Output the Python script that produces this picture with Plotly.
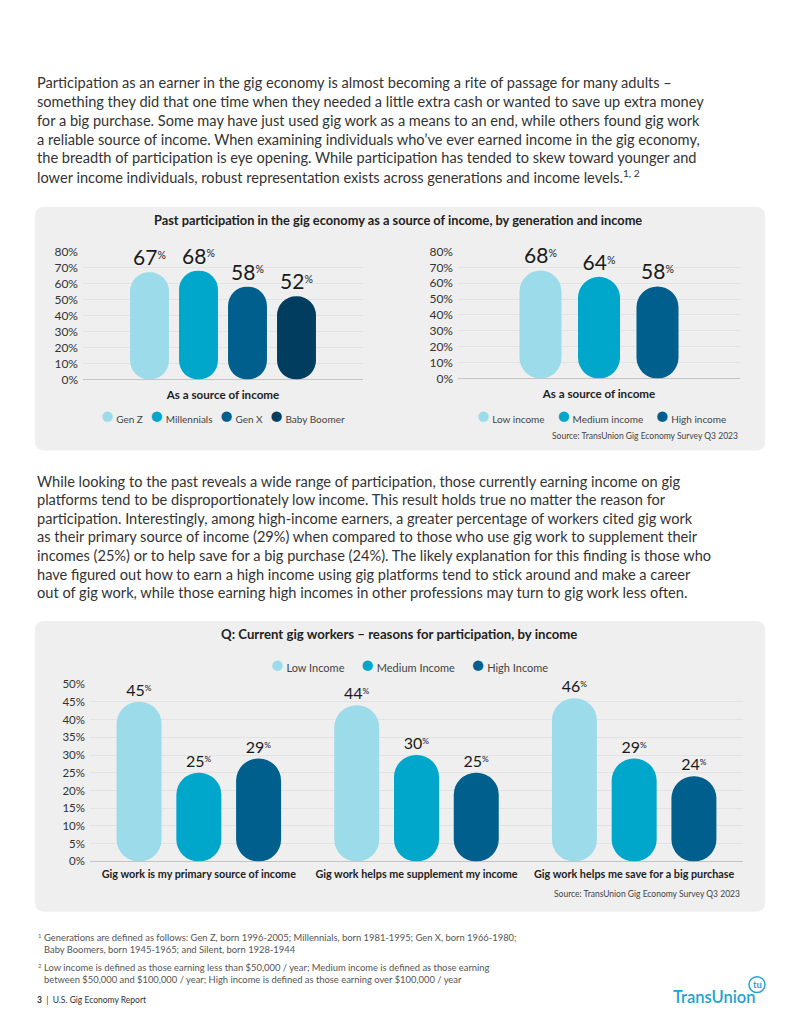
import plotly.graph_objects as go

W, H = 800, 1035
FONT = "Lato"
TEXT_COLOR = "#333333"

# ---- data -------------------------------------------------------------
GEN_CATEGORY = ["As a source of income"]
GEN_NAMES = ["Gen Z", "Millennials", "Gen X", "Baby Boomer"]
GEN_VALUES = [67, 68, 58, 52]

INCOME_CATEGORY = ["As a source of income"]
INCOME_NAMES = ["Low income", "Medium income", "High income"]
INCOME_VALUES = [68, 64, 58]

REASONS = [
    "Gig work is my primary source of income",
    "Gig work helps me supplement my income",
    "Gig work helps me save for a big purchase",
]
REASON_SERIES = ["Low Income", "Medium Income", "High Income"]
LOW_INCOME = [45, 44, 46]
MEDIUM_INCOME = [25, 30, 29]
HIGH_INCOME = [29, 25, 24]

GEN_COLORS = ["#9cdbea", "#00a7cb", "#005f8c", "#003d5e"]
INCOME_COLORS = ["#9cdbea", "#00a7cb", "#005f8c"]

PARA_1 = [
    "Participation as an earner in the gig economy is almost becoming a rite of passage for many adults –",
    "something they did that one time when they needed a little extra cash or wanted to save up extra money",
    "for a big purchase. Some may have just used gig work as a means to an end, while others found gig work",
    "a reliable source of income. When examining individuals who’ve ever earned income in the gig economy,",
    "the breadth of participation is eye opening. While participation has tended to skew toward younger and",
    "lower income individuals, robust representation exists across generations and income levels.<sup>1, 2</sup>",
]
PARA_2 = [
    "While looking to the past reveals a wide range of participation, those currently earning income on gig",
    "platforms tend to be disproportionately low income. This result holds true no matter the reason for",
    "participation. Interestingly, among high-income earners, a greater percentage of workers cited gig work",
    "as their primary source of income (29%) when compared to those who use gig work to supplement their",
    "incomes (25%) or to help save for a big purchase (24%). The likely explanation for this finding is those who",
    "have figured out how to earn a high income using gig platforms tend to stick around and make a career",
    "out of gig work, while those earning high incomes in other professions may turn to gig work less often.",
]
FOOTNOTES = [
    ("1", ["Generations are defined as follows: Gen Z, born 1996-2005; Millennials, born 1981-1995; Gen X, born 1966-1980;",
           "Baby Boomers, born 1945-1965; and Silent, born 1928-1944"]),
    ("2", ["Low income is defined as those earning less than $50,000 / year; Medium income is defined as those earning",
           "between $50,000 and $100,000 / year; High income is defined as those earning over $100,000 / year"]),
]
SOURCE = "Source: TransUnion Gig Economy Survey Q3 2023"


def px(x):
    return x / W


def py(y):
    return 1 - y / H


def pct_label(v, size):
    return f"{v}<span style='font-size:{size:.0f}px'><sup>%</sup></span>"


def add_pills(fig, x, values, color, xaxis, yaxis, width, offset, label_size):
    """Pill-shaped bars: an explicit base makes plotly round both ends."""
    fig.add_trace(go.Bar(
        x=x, y=values, base=[0] * len(values),
        xaxis=xaxis, yaxis=yaxis, width=width, offset=offset,
        marker=dict(color=color, cornerradius="50%", line=dict(width=0)),
        text=[pct_label(v, label_size * 0.72) for v in values],
        textposition="outside", constraintext="none", cliponaxis=False,
        outsidetextfont=dict(family=FONT, size=label_size, color="#1a1a1a"),
        showlegend=False, hoverinfo="skip",
    ))


def legend_text(names, colors, gap=4, dot=21):
    items = [f"<span style='color:{c};font-size:{dot}px'>●</span>\u00a0{n}" for n, c in zip(names, colors)]
    return ("\u00a0" * gap).join(items)


fig = go.Figure()

# chart 1: generations
slot, bw = 0.175, 0.139
for i, (v, c) in enumerate(zip(GEN_VALUES, GEN_COLORS)):
    centre = (i - (len(GEN_VALUES) - 1) / 2) * slot
    add_pills(fig, GEN_CATEGORY, [v], c, "x", "y", bw, centre - bw / 2, 21)

# chart 2: income
slot, bw = 0.2074, 0.149
for i, (v, c) in enumerate(zip(INCOME_VALUES, INCOME_COLORS)):
    centre = (i - (len(INCOME_VALUES) - 1) / 2) * slot
    add_pills(fig, INCOME_CATEGORY, [v], c, "x2", "y2", bw, centre - bw / 2, 21)

# chart 3: reasons by income
slot, bw = 0.2745, 0.2067
for i, (vals, c) in enumerate(zip([LOW_INCOME, MEDIUM_INCOME, HIGH_INCOME], INCOME_COLORS)):
    centre = (i - 1) * slot
    add_pills(fig, REASONS, vals, c, "x3", "y3", bw, centre - bw / 2, 16)

yaxis_style = dict(
    ticksuffix="%", showgrid=True, gridcolor="#e3e3e3", gridwidth=1,
    zeroline=True, zerolinecolor="#c4c4c4", zerolinewidth=1,
    showline=False, ticks="", ticklabelstandoff=4, fixedrange=True,
)
xaxis_style = dict(
    type="category", showgrid=False, zeroline=False, showline=False, ticks="",
    fixedrange=True,
)

fig.update_layout(
    width=W, height=H,
    margin=dict(l=0, r=0, t=0, b=0),
    paper_bgcolor="white", plot_bgcolor="rgba(0,0,0,0)",
    barmode="overlay", showlegend=False,
    font=dict(family=FONT, color=TEXT_COLOR),
    xaxis=dict(domain=[px(83), px(363)], anchor="y", range=[-0.5, 0.5], ticklabelstandoff=7,
               tickfont=dict(family=FONT, size=11.6, color="#222", weight="bold"), **xaxis_style),
    yaxis=dict(domain=[py(377), py(247)], anchor="x", range=[0, 80], dtick=10,
               tickfont=dict(family=FONT, size=12, color=TEXT_COLOR), **yaxis_style),
    xaxis2=dict(domain=[px(458), px(740)], anchor="y2", range=[-0.5, 0.5], ticklabelstandoff=7,
                tickfont=dict(family=FONT, size=11.6, color="#222", weight="bold"), **xaxis_style),
    yaxis2=dict(domain=[py(376), py(247)], anchor="x2", range=[0, 80], dtick=10,
                tickfont=dict(family=FONT, size=12, color=TEXT_COLOR), **yaxis_style),
    xaxis3=dict(domain=[px(90), px(743)], anchor="y3", range=[-0.5, 2.5], ticklabelstandoff=5,
                tickfont=dict(family=FONT, size=10.8, color="#222", weight="bold"), **xaxis_style),
    yaxis3=dict(domain=[py(866), py(686)], anchor="x3", range=[0, 50], dtick=5,
                tickfont=dict(family=FONT, size=11.5, color=TEXT_COLOR), **yaxis_style),
)


def panel(x0, y0, x1, y1, r=9):
    rx, ry = r / W, r / H
    a0, a1, b0, b1 = px(x0), px(x1), py(y1), py(y0)
    path = (f"M {a0 + rx},{b0} L {a1 - rx},{b0} Q {a1},{b0} {a1},{b0 + ry} "
            f"L {a1},{b1 - ry} Q {a1},{b1} {a1 - rx},{b1} L {a0 + rx},{b1} "
            f"Q {a0},{b1} {a0},{b1 - ry} L {a0},{b0 + ry} Q {a0},{b0} {a0 + rx},{b0} Z")
    return dict(type="path", xref="paper", yref="paper", path=path,
                fillcolor="#efefef", line=dict(width=0), layer="below")


logo_color = "#1ea3d0"
fig.update_layout(shapes=[
    panel(35, 202, 765, 449),
    panel(35, 622, 765, 917),
    dict(type="circle", xref="paper", yref="paper",
         x0=px(749), x1=px(765), y0=py(999), y1=py(983),
         line=dict(color=logo_color, width=1.5)),
])

ann = []


def text(x, y, s, size, color=TEXT_COLOR, anchor="left", weight="normal"):
    ann.append(dict(x=px(x), y=py(y), xref="paper", yref="paper", text=s,
                    showarrow=False, xanchor=anchor, yanchor="middle",
                    font=dict(family=FONT, size=size, color=color, weight=weight)))


for i, line in enumerate(PARA_1):
    text(35, 76 + i * 19, line, 14.6)
for i, line in enumerate(PARA_2):
    text(35, 480 + i * 18.9, line, 14.6)

text(398, 215, "Past participation in the gig economy as a source of income, by generation and income",
     12.8, "#222", "center", "bold")
text(399, 635, "Q: Current gig workers – reasons for participation, by income",
     13.2, "#222", "center", "bold")

text(223, 412, legend_text(GEN_NAMES, GEN_COLORS, gap=3), 10, "#444", "center")
text(601, 412, legend_text(INCOME_NAMES, INCOME_COLORS, gap=5), 10, "#444", "center")
text(410, 665, legend_text(REASON_SERIES, INCOME_COLORS, gap=6), 11, "#444", "center")

text(740, 434, SOURCE, 8.5, "#444", "right")
text(742, 899, SOURCE, 8.5, "#444", "right")

y = 943
for mark, lines in FOOTNOTES:
    text(36, y - 2, mark, 6, "#666")
    for line in lines:
        text(42, y, line, 9.4, "#555")
        y += 12
    y += 7

text(35, 1007, "<b>3</b>\u00a0\u00a0|\u00a0\u00a0U.S. Gig Economy Report", 8.5, "#333")
text(671, 1004, "TransUnion", 16.5, logo_color, "left", 600)
text(757, 991, "tu", 9.5, logo_color, "center", "bold")

fig.update_layout(annotations=ann)

# drop the browser's default body margin so the 800x1035 figure fills the window
fig.write_html("out.html", config={"displayModeBar": False},
               post_script="document.body.style.margin='0';")
